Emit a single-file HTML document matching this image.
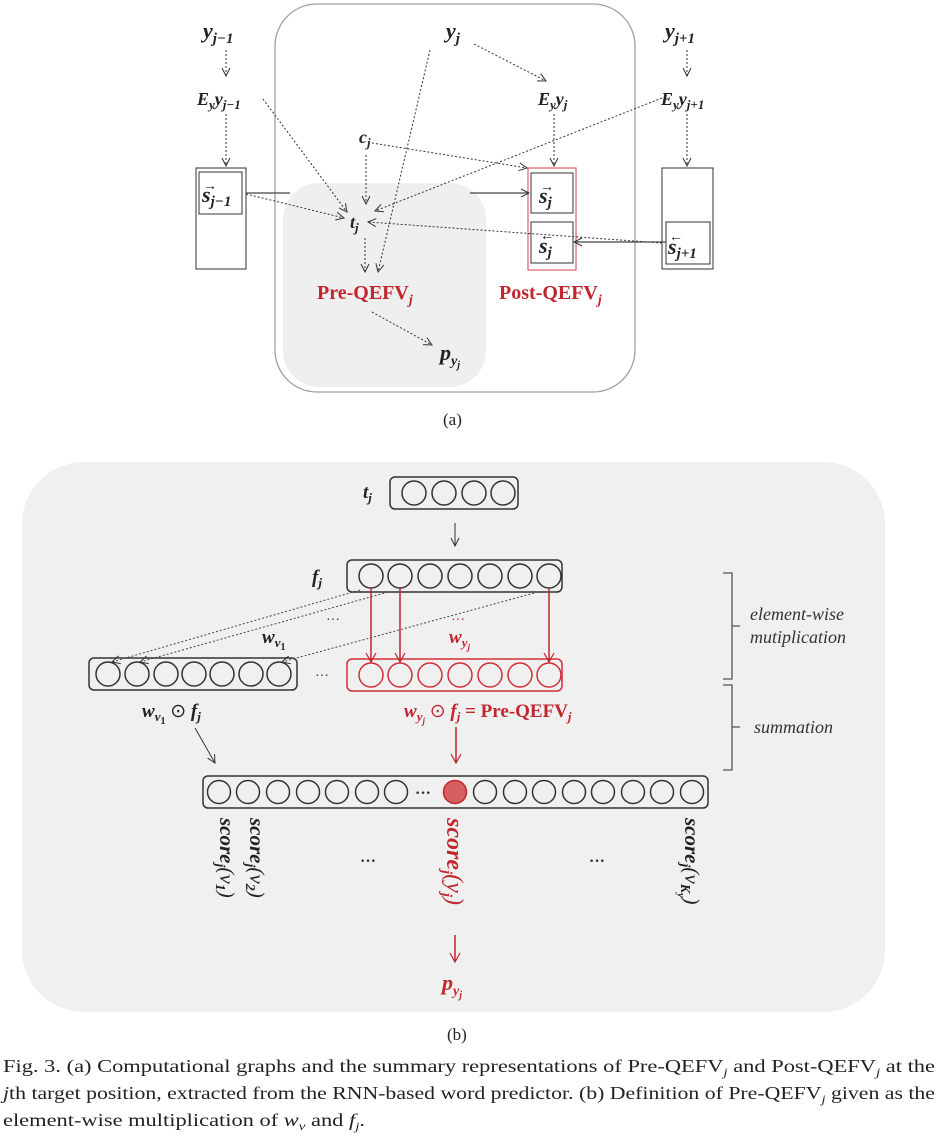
<!DOCTYPE html>
<html><head><meta charset="utf-8"><style>
html,body{margin:0;padding:0;background:#fff}
svg{display:block}
.m{font-family:"Liberation Serif",serif;font-weight:bold;font-style:italic}
.r{fill:#c0262d}
.lbl{font-family:"Liberation Serif",serif;font-weight:bold;fill:#c0262d}
.cap{font-family:"Liberation Serif",serif;font-size:18px;fill:#222}
</style></head><body>
<svg width="943" height="1139" viewBox="0 0 943 1139" xmlns="http://www.w3.org/2000/svg">
<defs>
<marker id="a" markerWidth="10" markerHeight="10" refX="9" refY="5" orient="auto" markerUnits="userSpaceOnUse"><path d="M1,1 L9,5 L1,9" fill="none" stroke="#333" stroke-width="1"/></marker>
<marker id="ar" markerWidth="12" markerHeight="12" refX="10" refY="6" orient="auto" markerUnits="userSpaceOnUse"><path d="M1,1 L10,6 L1,11" fill="none" stroke="#c0262d" stroke-width="1.2"/></marker>
</defs>

<!-- (a) -->
<rect x="275" y="4" width="360" height="388" rx="42" fill="#fff" stroke="#a0a0a0" stroke-width="1.3"/>
<rect x="283" y="183" width="203" height="204" rx="36" fill="#efefef"/>

<g class="m" font-size="22" fill="#222">
<text x="203" y="38">y<tspan font-size="15" dy="5">j−1</tspan></text>
<text x="446" y="38">y<tspan font-size="15" dy="5">j</tspan></text>
<text x="665" y="38">y<tspan font-size="15" dy="5">j+1</tspan></text>
</g>
<g class="m" font-size="18" fill="#222">
<text x="197" y="105">E<tspan font-size="13" dy="4">y</tspan><tspan dy="-4">y</tspan><tspan font-size="13" dy="4">j−1</tspan></text>
<text x="538" y="105">E<tspan font-size="13" dy="4">y</tspan><tspan dy="-4">y</tspan><tspan font-size="13" dy="4">j</tspan></text>
<text x="661" y="105">E<tspan font-size="13" dy="4">y</tspan><tspan dy="-4">y</tspan><tspan font-size="13" dy="4">j+1</tspan></text>
<text x="359" y="143">c<tspan font-size="13" dy="4">j</tspan></text>
<text x="350" y="228">t<tspan font-size="13" dy="4">j</tspan></text>
<text x="440" y="360" font-size="22">p<tspan font-size="14" dy="5">y</tspan><tspan font-size="10" dy="3">j</tspan></text>
</g>

<!-- boxes -->
<rect x="196" y="168" width="50" height="101" fill="#fff" stroke="#333"/>
<rect x="199" y="172" width="43" height="42" fill="#fff" stroke="#333"/>
<rect x="662" y="168" width="51" height="101" fill="#fff" stroke="#333"/>
<rect x="666" y="222" width="44" height="42" fill="#fff" stroke="#333"/>
<rect x="528" y="168" width="48" height="102" fill="#fff" stroke="#d04048"/>
<rect x="531" y="173" width="42" height="40" fill="#fff" stroke="#333"/>
<rect x="531" y="222" width="42" height="41" fill="#fff" stroke="#333"/>
<g class="m" font-size="22" fill="#222">
<text x="202" y="202">s<tspan font-size="15" dy="4">j−1</tspan></text>
<text x="203" y="190" font-size="14" font-style="normal">→</text>
<text x="539" y="203">s<tspan font-size="15" dy="4">j</tspan></text>
<text x="540" y="191" font-size="14" font-style="normal">→</text>
<text x="539" y="253">s<tspan font-size="15" dy="4">j</tspan></text>
<text x="540" y="240" font-size="14" font-style="normal">←</text>
<text x="668" y="254">s<tspan font-size="15" dy="4">j+1</tspan></text>
<text x="669" y="241" font-size="14" font-style="normal">←</text>
</g>

<!-- dotted arrows -->
<g stroke="#333" stroke-width="1" stroke-dasharray="2,2" fill="none" marker-end="url(#a)">
<line x1="226" y1="50" x2="226" y2="76"/>
<line x1="687" y1="50" x2="687" y2="76"/>
<line x1="226" y1="114" x2="226" y2="166"/>
<line x1="687" y1="114" x2="687" y2="166"/>
<line x1="554" y1="114" x2="554" y2="166"/>
<line x1="474" y1="44" x2="546" y2="81"/>
<line x1="263" y1="99" x2="347" y2="212"/>
<line x1="246" y1="194" x2="344" y2="218"/>
<line x1="366" y1="155" x2="366" y2="204"/>
<line x1="372" y1="143" x2="527" y2="168"/>
<line x1="662" y1="98" x2="375" y2="211"/>
<line x1="662" y1="243" x2="368" y2="222"/>
<line x1="365" y1="238" x2="365" y2="272"/>
<line x1="430" y1="50" x2="378" y2="272"/>
<line x1="372" y1="312" x2="432" y2="345"/>
</g>
<line x1="246" y1="193" x2="290" y2="193" stroke="#444" stroke-width="1.2"/>
<line x1="470" y1="193" x2="529" y2="193" stroke="#444" stroke-width="1.2" marker-end="url(#a)"/>
<line x1="666" y1="242" x2="574" y2="242" stroke="#444" stroke-width="1.2" marker-end="url(#a)"/>

<text x="317" y="299" class="lbl" font-size="20">Pre-QEFV<tspan font-style="italic" font-size="14" dy="5">j</tspan></text>
<text x="499" y="299" class="lbl" font-size="20">Post-QEFV<tspan font-style="italic" font-size="14" dy="5">j</tspan></text>
<text x="443" y="425" font-family="Liberation Serif,serif" font-size="17" fill="#222">(a)</text>

<!-- (b) -->
<rect x="22" y="462" width="863" height="550" rx="62" fill="#f0f0f0"/>

<g fill="none" stroke="#333" stroke-width="1.5">
<rect x="390" y="477" width="128" height="32" rx="5"/>
<circle cx="414" cy="493" r="12"/><circle cx="444" cy="493" r="12"/><circle cx="474" cy="493" r="12"/><circle cx="503" cy="493" r="12"/>
<rect x="347" y="560" width="215" height="32" rx="5"/>
<circle cx="371" cy="576" r="12"/><circle cx="400" cy="576" r="12"/><circle cx="430" cy="576" r="12"/><circle cx="460" cy="576" r="12"/><circle cx="490" cy="576" r="12"/><circle cx="520" cy="576" r="12"/><circle cx="549" cy="576" r="12"/>
<rect x="89" y="658" width="208" height="32" rx="5"/>
<circle cx="108" cy="674" r="12"/><circle cx="137" cy="674" r="12"/><circle cx="166" cy="674" r="12"/><circle cx="194" cy="674" r="12"/><circle cx="222" cy="674" r="12"/><circle cx="251" cy="674" r="12"/><circle cx="279" cy="674" r="12"/>
</g>
<g fill="none" stroke="#d03038" stroke-width="1.5">
<rect x="347" y="659" width="215" height="32" rx="5"/>
<circle cx="371" cy="675" r="12"/><circle cx="400" cy="675" r="12"/><circle cx="430" cy="675" r="12"/><circle cx="460" cy="675" r="12"/><circle cx="490" cy="675" r="12"/><circle cx="520" cy="675" r="12"/><circle cx="549" cy="675" r="12"/>
</g>
<g fill="none" stroke="#c0262d" stroke-width="1.5" marker-end="url(#ar)">
<line x1="371" y1="588" x2="371" y2="662"/>
<line x1="400" y1="588" x2="400" y2="662"/>
<line x1="549" y1="588" x2="549" y2="662"/>
<line x1="456" y1="727" x2="456" y2="763"/>
<line x1="455" y1="935" x2="455" y2="962"/>
</g>
<g stroke="#444" stroke-width="1" stroke-dasharray="2,2" fill="none" marker-end="url(#a)">
<line x1="360" y1="590" x2="112" y2="662"/>
<line x1="388" y1="592" x2="140" y2="662"/>
<line x1="538" y1="592" x2="282" y2="662"/>
</g>
<line x1="455" y1="523" x2="455" y2="546" stroke="#333" stroke-width="1" marker-end="url(#a)"/>
<line x1="195" y1="728" x2="215" y2="763" stroke="#333" stroke-width="1" marker-end="url(#a)"/>

<g class="m" font-size="19" fill="#222">
<text x="363" y="498">t<tspan font-size="13" dy="4">j</tspan></text>
<text x="312" y="583">f<tspan font-size="13" dy="4">j</tspan></text>
<text x="262" y="643">w<tspan font-size="13" dy="4">v</tspan><tspan font-size="10" dy="3" font-style="normal">1</tspan></text>
<text x="142" y="717">w<tspan font-size="13" dy="4">v</tspan><tspan font-size="10" dy="3" font-style="normal">1</tspan><tspan dy="-7" font-style="normal" font-weight="normal"> ⊙ </tspan>f<tspan font-size="13" dy="4">j</tspan></text>
</g>
<g class="m r" font-size="19">
<text x="449" y="643">w<tspan font-size="13" dy="4">y</tspan><tspan font-size="9" dy="3">j</tspan></text>
<text x="404" y="717">w<tspan font-size="13" dy="4">y</tspan><tspan font-size="9" dy="3">j</tspan><tspan dy="-7" font-style="normal" font-weight="normal"> ⊙ </tspan>f<tspan font-size="13" dy="4">j</tspan><tspan dy="-4" font-style="normal"> = Pre-QEFV</tspan><tspan font-size="13" dy="4">j</tspan></text>
</g>
<g font-family="Liberation Serif,serif" font-size="14" fill="#333">
<text x="326" y="624">···</text><text x="315" y="680">···</text>
</g>
<text x="451" y="624" font-family="Liberation Serif,serif" font-size="14" fill="#c0262d">···</text>

<g fill="none" stroke="#555" stroke-width="1.3">
<path d="M723,573 H732 V679 H723 M732,626 H740"/>
<path d="M723,685 H732 V770 H723 M732,727 H740"/>
</g>
<g font-family="Liberation Serif,serif" font-style="italic" font-size="18" fill="#333">
<text x="750" y="620">element-wise</text>
<text x="750" y="643">mutiplication</text>
<text x="754" y="733">summation</text>
</g>

<rect x="203" y="776" width="505" height="32" rx="5" fill="none" stroke="#333" stroke-width="1.5"/>
<g fill="none" stroke="#333" stroke-width="1.5">
<circle cx="219" cy="792" r="11.5"/><circle cx="248" cy="792" r="11.5"/><circle cx="278" cy="792" r="11.5"/><circle cx="308" cy="792" r="11.5"/><circle cx="337" cy="792" r="11.5"/><circle cx="367" cy="792" r="11.5"/><circle cx="396" cy="792" r="11.5"/>
<circle cx="485" cy="792" r="11.5"/><circle cx="515" cy="792" r="11.5"/><circle cx="544" cy="792" r="11.5"/><circle cx="574" cy="792" r="11.5"/><circle cx="603" cy="792" r="11.5"/><circle cx="633" cy="792" r="11.5"/><circle cx="662" cy="792" r="11.5"/><circle cx="692" cy="792" r="11.5"/>
</g>
<circle cx="455" cy="792" r="11.5" fill="#d46060" stroke="#c0262d" stroke-width="1.5"/>
<text x="415" y="798" font-family="Liberation Serif,serif" font-size="16" fill="#333" font-weight="bold">···</text>

<g class="m" font-size="21" fill="#222">
<text transform="translate(220,818) rotate(90)">score<tspan font-size="14" dy="4">j</tspan><tspan dy="-4" font-weight="normal">(v</tspan><tspan font-size="14" dy="4">1</tspan><tspan dy="-4" font-weight="normal">)</tspan></text>
<text transform="translate(250,818) rotate(90)">score<tspan font-size="14" dy="4">j</tspan><tspan dy="-4" font-weight="normal">(v</tspan><tspan font-size="14" dy="4">2</tspan><tspan dy="-4" font-weight="normal">)</tspan></text>
<text transform="translate(685,818) rotate(90)">score<tspan font-size="14" dy="4">j</tspan><tspan dy="-4" font-weight="normal">(v</tspan><tspan font-size="14" dy="4">K</tspan><tspan font-size="10" dy="3">y</tspan><tspan dy="-7" font-weight="normal">)</tspan></text>
</g>
<text class="m r" font-size="24" transform="translate(447,818) rotate(90)">score<tspan font-size="15" dy="5">j</tspan><tspan dy="-5" font-weight="normal">(y</tspan><tspan font-size="15" dy="5">j</tspan><tspan dy="-5" font-weight="normal">)</tspan></text>
<g font-family="Liberation Serif,serif" font-size="16" fill="#333" font-weight="bold">
<text x="360" y="866">···</text><text x="589" y="866">···</text>
</g>
<text x="442" y="990" class="m r" font-size="22">p<tspan font-size="14" dy="5">y</tspan><tspan font-size="10" dy="3">j</tspan></text>

<text x="447" y="1040" font-family="Liberation Serif,serif" font-size="17" fill="#222">(b)</text>

<text class="cap" x="3" y="1072" textLength="932" lengthAdjust="spacingAndGlyphs">Fig. 3.  (a) Computational graphs and the summary representations of Pre-QEFV<tspan font-style="italic" font-size="12" dy="4">j</tspan><tspan dy="-4"> and Post-QEFV</tspan><tspan font-style="italic" font-size="12" dy="4">j</tspan><tspan dy="-4"> at the</tspan></text>
<text class="cap" x="3" y="1099" textLength="932" lengthAdjust="spacingAndGlyphs"><tspan font-style="italic">j</tspan>th target position, extracted from the RNN-based word predictor. (b) Definition of Pre-QEFV<tspan font-style="italic" font-size="12" dy="4">j</tspan><tspan dy="-4"> given as the</tspan></text>
<text class="cap" x="3" y="1126" textLength="362" lengthAdjust="spacingAndGlyphs">element-wise multiplication of <tspan font-style="italic">w</tspan><tspan font-style="italic" font-size="12" dy="4">v</tspan><tspan dy="-4"> and </tspan><tspan font-style="italic">f</tspan><tspan font-style="italic" font-size="12" dy="4">j</tspan><tspan dy="-4">.</tspan></text>
</svg>
</body></html>
